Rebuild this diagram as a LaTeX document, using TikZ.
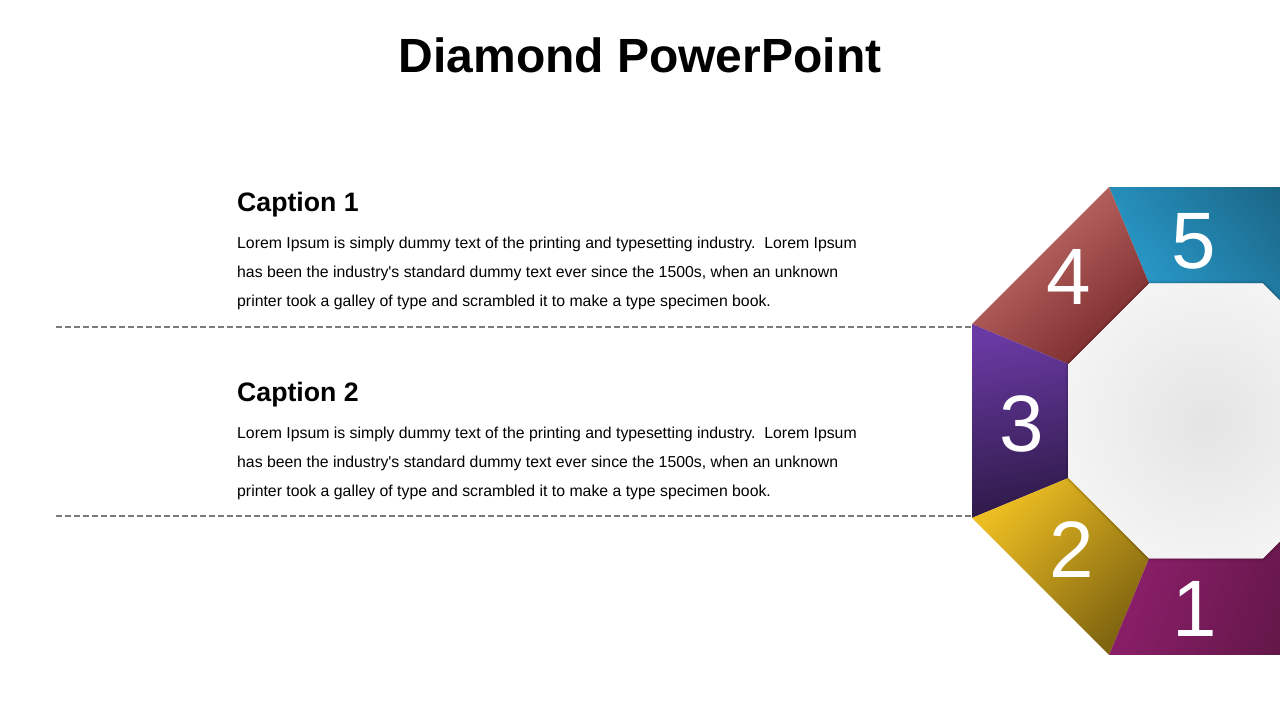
\documentclass[tikz,border=0pt]{standalone}
\usepackage{fontspec}
\setmainfont{Liberation Sans}[Ligatures=TeXOff]
\usetikzlibrary{calc}
\definecolor{sepgray}{HTML}{7A7A7A}
\definecolor{c5a}{HTML}{2BA0D2}\definecolor{c5b}{HTML}{14506A}
\definecolor{c4a}{HTML}{CA7570}\definecolor{c4b}{HTML}{7A2A2C}
\definecolor{c3a}{HTML}{6A3AA4}\definecolor{c3b}{HTML}{2E1A48}
\definecolor{c2a}{HTML}{EDBE22}\definecolor{c2b}{HTML}{806510}
\definecolor{c1a}{HTML}{8E1F6C}\definecolor{c1b}{HTML}{481232}
\definecolor{octin}{HTML}{E4E4E4}\definecolor{octout}{HTML}{F3F3F3}
\begin{document}
\begin{tikzpicture}[x=1pt,y=1pt,
  num/.style={text=white, font=\fontsize{80}{96}\selectfont, anchor=base, inner sep=0pt},
  titletext/.style={font=\fontsize{48}{58}\selectfont\bfseries, anchor=base, inner sep=0pt},
  captext/.style={font=\fontsize{26.67}{32}\selectfont\bfseries, anchor=base west, inner sep=0pt},
  bodytext/.style={font=\fontsize{15.82}{19}\selectfont, anchor=base west, inner sep=0pt},
  sepline/.style={draw=sepgray, line width=1.3pt, dash pattern=on 6pt off 3pt}]
\useasboundingbox (0,0) rectangle (1280,720);
\begin{scope}
\clip (0,0) rectangle (1280,720);
\coordinate (C) at (1206,299);
\foreach \i in {0,...,7}{
  \coordinate (O\i) at ($(C)+({22.5+45*\i}:253.28)$);
  \coordinate (I\i) at ($(C)+({22.5+45*\i}:148.83)$);
}
% segments
\shade[top color=c5b, bottom color=c5a, shading angle=-50]
  (O2)--(O1)--(O0)--(I0)--(I1)--(I2)--cycle;
\shade[top color=c4a, bottom color=c4b, shading angle=40]
  (O3)--(O2)--(I2)--(I3)--cycle;
\shade[top color=c3a, bottom color=c3b, shading angle=10]
  (O4)--(O3)--(I3)--(I4)--cycle;
\shade[top color=c2a, bottom color=c2b, shading angle=45]
  (O5)--(O4)--(I4)--(I5)--cycle;
\shade[top color=c1a, bottom color=c1b, shading angle=70]
  (O7)--(O6)--(O5)--(I5)--(I6)--(I7)--cycle;
% inner octagon with soft shadow
\draw[black, opacity=0.05, line width=6pt, line join=round]
  (I0)--(I1)--(I2)--(I3)--(I4)--(I5)--(I6)--(I7)--cycle;
\draw[black, opacity=0.10, line width=3pt, line join=round]
  (I0)--(I1)--(I2)--(I3)--(I4)--(I5)--(I6)--(I7)--cycle;
\shade[inner color=octin, outer color=octout]
  (I0)--(I1)--(I2)--(I3)--(I4)--(I5)--(I6)--(I7)--cycle;
% numbers
\node[num] (n5) at (1194,451) {5};
\node[num] (n4) at (1069,415) {4};
\node[num] (n3) at (1022,268) {3};
\node[num] (n2) at (1072,142) {2};
\node[num] (n1) at (1195,83) {1};
\end{scope}
% title
\node[titletext] (title) at (640,647) {Diamond PowerPoint};
% caption 1
\node[captext] (cap1) at (237,508) {Caption 1};
\node[bodytext] (b1a) at (237,471) {Lorem Ipsum is simply dummy text of the printing and typesetting industry.\ \ Lorem Ipsum};
\node[bodytext] (b1b) at (237,442.3) {has been the industry's standard dummy text ever since the 1500s, when an unknown};
\node[bodytext] (b1c) at (237,413.7) {printer took a galley of type and scrambled it to make a type specimen book.};
% caption 2
\node[captext] (cap2) at (237,318) {Caption 2};
\node[bodytext] (b2a) at (237,281) {Lorem Ipsum is simply dummy text of the printing and typesetting industry.\ \ Lorem Ipsum};
\node[bodytext] (b2b) at (237,252.3) {has been the industry's standard dummy text ever since the 1500s, when an unknown};
\node[bodytext] (b2c) at (237,223.7) {printer took a galley of type and scrambled it to make a type specimen book.};
% dashed separators
\coordinate (d1s) at (56,393);
\coordinate (d1e) at (973,393);
\coordinate (d2s) at (56,204);
\coordinate (d2e) at (972,204);
\draw[sepline] (d1s) -- (d1e);
\draw[sepline] (d2s) -- (d2e);
\end{tikzpicture}
\end{document}
